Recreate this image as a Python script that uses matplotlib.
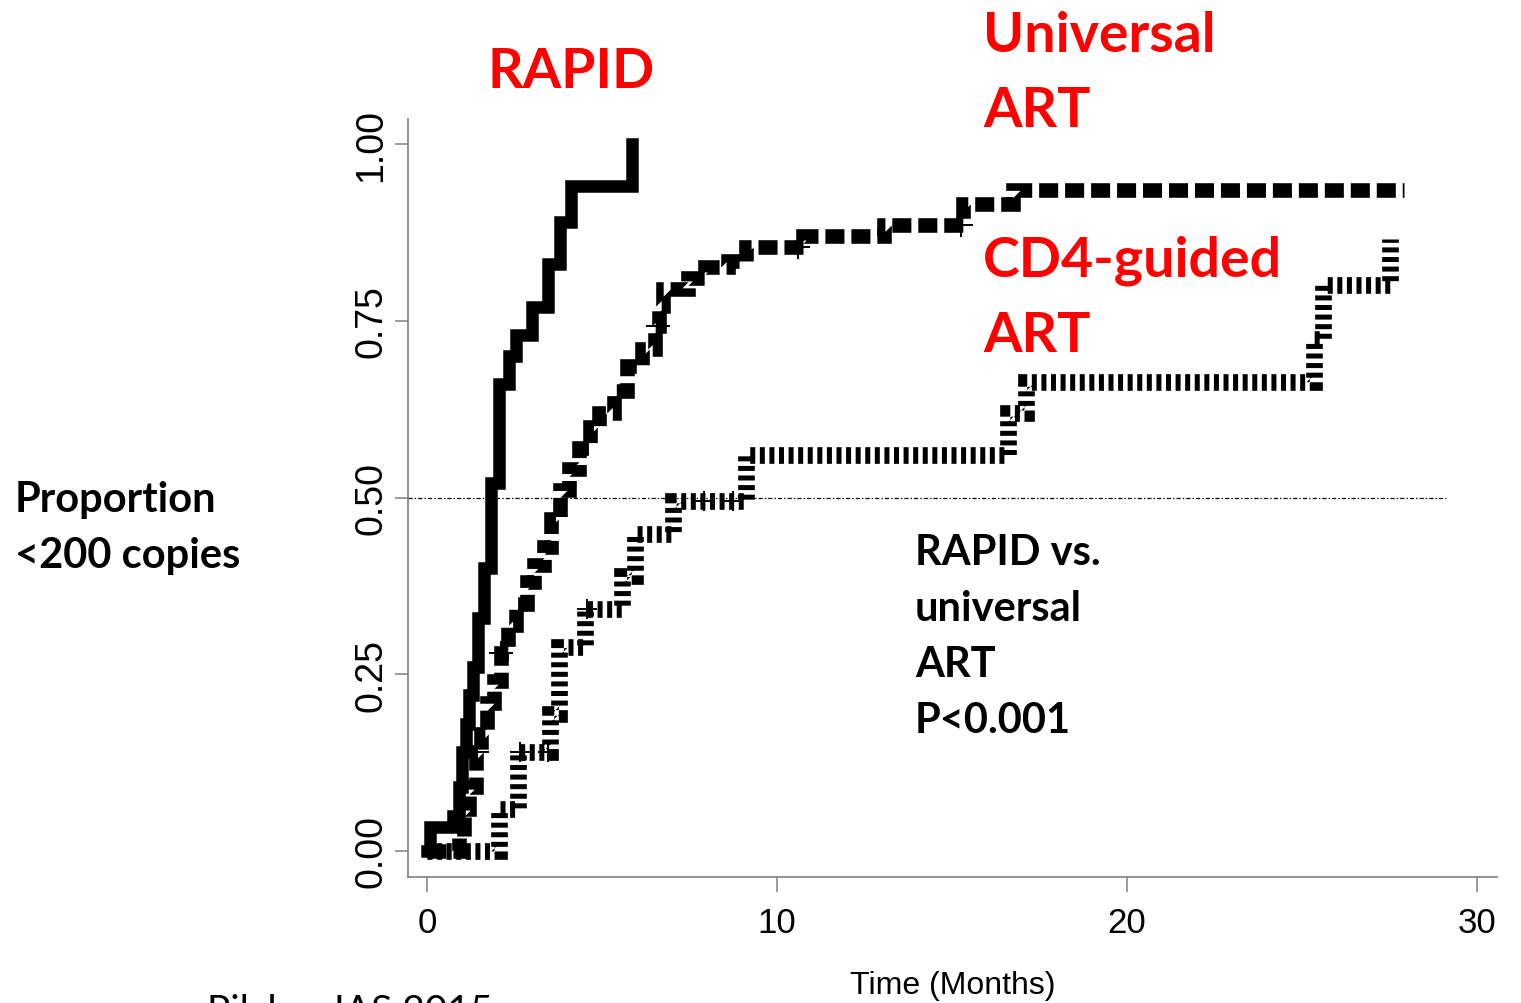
import numpy as np
import matplotlib
matplotlib.use("Agg")
import matplotlib.pyplot as plt

plt.rcParams['lines.scale_dashes'] = False

# Kaplan-Meier style curves: time (months) of each step, proportion after step
rapid_t = [0, 0.08, 0.75, 0.9, 1.0, 1.1, 1.2, 1.3, 1.45, 1.62, 1.82, 2.05, 2.33, 2.55, 3.0, 3.45, 3.8, 4.12, 5.87]
rapid_v = [0, 0.034, 0.05, 0.09, 0.14, 0.18, 0.22, 0.26, 0.33, 0.40, 0.52, 0.66, 0.70, 0.73, 0.77, 0.83, 0.89, 0.94, 1.0]

univ_t = [0, 0.9, 1.05, 1.2, 1.4, 1.55, 1.7, 1.9, 2.1, 2.3, 2.55, 2.85, 3.05, 3.35, 3.55, 3.8,
          4.05, 4.35, 4.65, 4.9, 5.35, 5.7, 6.15, 6.5, 6.62, 6.75, 7.45, 7.95, 8.6, 9.1,
          10.75, 13.05, 15.3, 16.75, 27.9]
univ_v = [0, 0.02, 0.06, 0.09, 0.14, 0.165, 0.21, 0.24, 0.28, 0.32, 0.35, 0.38, 0.405, 0.43, 0.47, 0.51,
          0.54, 0.57, 0.60, 0.62, 0.65, 0.686, 0.71, 0.743, 0.771, 0.795, 0.81, 0.826, 0.835, 0.855,
          0.87, 0.885, 0.915, 0.935, 0.935]

cd4_t = [0, 2.05, 2.6, 3.5, 3.76, 4.5, 5.57, 5.95, 7.03, 9.1, 16.6, 17.1, 25.35, 25.6, 27.5]
cd4_v = [0, 0.06, 0.14, 0.194, 0.289, 0.342, 0.389, 0.448, 0.495, 0.56, 0.62, 0.663, 0.724, 0.80, 0.866]

# censored observations
univ_cens = [1.43, 2.1, 6.6, 10.6, 15.25]
cd4_cens = [2.66, 3.46, 4.57, 7.9, 8.75]

y_ticks = [0.0, 0.25, 0.5, 0.75, 1.0]
y_tick_labels = ["0.00", "0.25", "0.50", "0.75", "1.00"]
x_ticks = [0, 10, 20, 30]


def step_value(t_list, v_list, t):
    i = np.searchsorted(t_list, t, side='right') - 1
    return v_list[i]


W, H = 1521, 1004
fig = plt.figure(figsize=(W / 100, H / 100), dpi=100)
ax = fig.add_axes([408 / W, 1 - 878 / H, (1497 - 408) / W, (878 - 120) / H])

ax.step(cd4_t, cd4_v, where='post', color='black', lw=12, dashes=(3.6, 3.3),
        dash_capstyle='butt', dash_joinstyle='miter')
ax.step(univ_t, univ_v, where='post', color='black', lw=10.5, dashes=(13.7, 5.0),
        dash_capstyle='butt', dash_joinstyle='miter')
ax.step(rapid_t, rapid_v, where='post', color='black', lw=9, solid_joinstyle='miter')

ax.plot(univ_cens, [step_value(univ_t, univ_v, c) for c in univ_cens], ls='none',
        marker='+', ms=17, mew=1.4, color='black')
ax.plot(cd4_cens, [step_value(cd4_t, cd4_v, c) for c in cd4_cens], ls='none',
        marker='+', ms=15, mew=1.4, color='black')

ax.set_xlim(-0.543, 30.57)
ax.set_ylim(-0.0368, 1.0354)
ax.hlines(0.5, -0.543, 29.1, color='black', lw=0.9, linestyles=[(0, (3, 1.5, 1, 1.5))])

for s in ['top', 'right']:
    ax.spines[s].set_visible(False)
for s in ['left', 'bottom']:
    ax.spines[s].set_color('#808080')
    ax.spines[s].set_linewidth(1.2)

ax.set_yticks(y_ticks)
ax.set_yticklabels(y_tick_labels, rotation=90, va='center',
                   fontfamily=['Liberation Sans', 'DejaVu Sans'], fontsize=27)
ax.set_xticks(x_ticks)
ax.set_xticklabels([str(x) for x in x_ticks],
                   fontfamily=['Liberation Sans', 'DejaVu Sans'], fontsize=25)
ax.tick_params(axis='y', length=9.4, width=1.1, color='#808080', pad=4)
ax.tick_params(axis='x', length=10.8, width=1.1, color='#808080', pad=10)

fig.text(952.5 / W, 1 - 994 / H, "Time (Months)", ha='center', va='baseline',
         fontfamily=['Liberation Sans', 'DejaVu Sans'], fontsize=23)

red_font = dict(color='red', fontweight='bold', fontfamily=['Lato', 'DejaVu Sans'], fontsize=40, va='baseline')
fig.text(487 / W, 1 - 88 / H, "RAPID", **red_font)
fig.text(983 / W, 1 - 52 / H, "Universal", **red_font)
fig.text(983 / W, 1 - 127 / H, "ART", **red_font)
fig.text(983 / W, 1 - 277 / H, "CD4-guided", **red_font)
fig.text(983 / W, 1 - 352 / H, "ART", **red_font)

black_font = dict(color='black', fontweight='bold', fontfamily=['Lato', 'DejaVu Sans'], fontsize=30, va='baseline')
fig.text(15 / W, 1 - 512 / H, "Proportion", **black_font)
fig.text(15 / W, 1 - 568 / H, "<200 copies", **black_font)
fig.text(915 / W, 1 - 565 / H, "RAPID vs.", **black_font)
fig.text(915 / W, 1 - 621 / H, "universal", **black_font)
fig.text(915 / W, 1 - 677 / H, "ART", **black_font)
fig.text(915 / W, 1 - 733 / H, "P<0.001", **black_font)

fig.text(207 / W, 1 - 1023 / H, "Pilcher IAS 2015", color='black',
         fontfamily=['Lato', 'DejaVu Sans'], fontsize=28, va='baseline')

fig.savefig("out.png", dpi=100)
